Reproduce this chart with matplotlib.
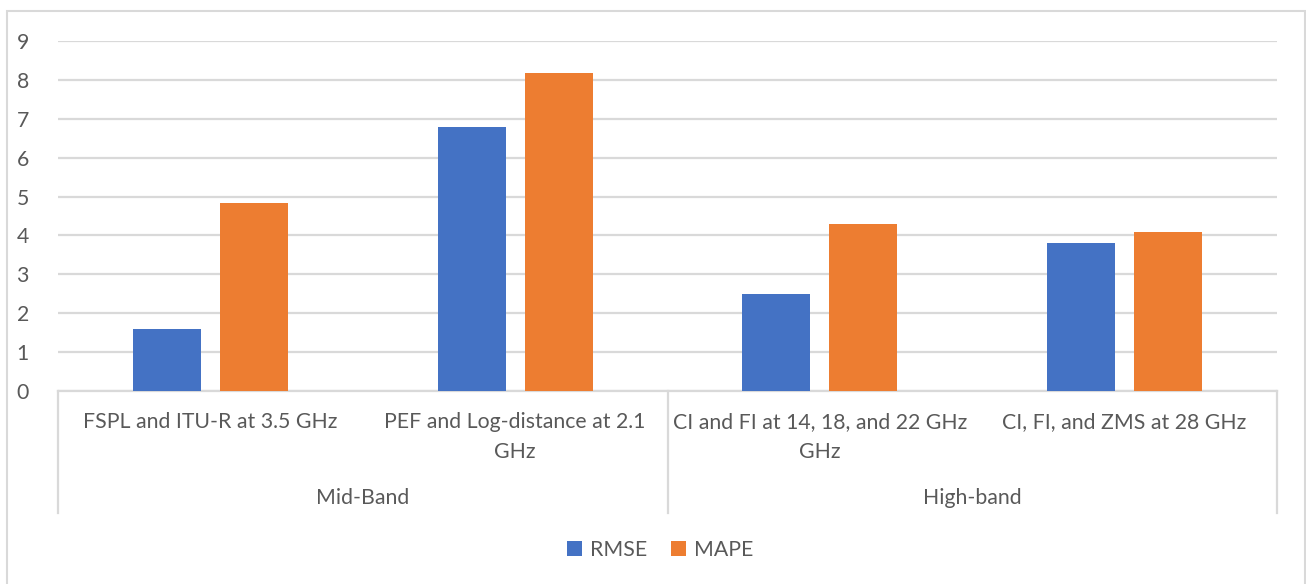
import matplotlib
matplotlib.use("Agg")
import matplotlib.pyplot as plt
import numpy as np
from matplotlib.patches import Rectangle
from matplotlib.lines import Line2D

categories = ["FSPL and ITU-R at 3.5 GHz", "PEF and Log-distance at 2.1\nGHz",
              "CI and FI at 14, 18, and 22 GHz\nGHz", "CI, FI, and ZMS at 28 GHz"]
groups = ["Mid-Band", "High-band"]
group_sizes = [2, 2]
series_names = ["RMSE", "MAPE"]
rmse = [1.6, 6.78, 2.5, 3.8]
mape = [4.83, 8.18, 4.3, 4.1]
yticks = [0, 1, 2, 3, 4, 5, 6, 7, 8, 9]

colors = ["#4472C4", "#ED7D31"]
text_color = "#595959"
grid_color = "#D9D9D9"
font = ["Lato", "DejaVu Sans"]
plt.rcParams['font.family'] = font
fs = 15.3

W, H = 1306, 584
fig = plt.figure(figsize=(W / 100, H / 100), dpi=100)

# outer chart border
fig.add_artist(Rectangle((7 / W, -0.05), (1305 - 7) / W, 1 - 11 / H + 0.05,
                         transform=fig.transFigure, fill=False,
                         edgecolor="#D9D9D9", linewidth=1.5))

x0, x1 = 58, 1277
y0, y1 = 391, 41
ax = fig.add_axes([x0 / W, 1 - y0 / H, (x1 - x0) / W, (y0 - y1) / H])

n = len(categories)
x = np.arange(n)
bw = 0.223
off = 0.143
ax.bar(x - off, rmse, bw, color=colors[0], label=series_names[0], zorder=3)
ax.bar(x + off, mape, bw, color=colors[1], label=series_names[1], zorder=3)

ax.set_xlim(-0.5, n - 0.5)
ax.set_ylim(0, 9)
ax.set_yticks(yticks)
ax.set_yticklabels([str(t) for t in yticks])
ax.tick_params(axis='y', length=0, pad=21, labelsize=fs, colors=text_color)
ax.set_xticks([])
ax.yaxis.grid(True, color=grid_color, linewidth=1.6, zorder=0)
for s in ["top", "right", "left"]:
    ax.spines[s].set_visible(False)
ax.spines["bottom"].set_color(grid_color)
ax.spines["bottom"].set_linewidth(1.6)
ax.set_axisbelow(True)

trans = ax.get_xaxis_transform()
ppy = 1.0 / (y0 - y1)  # axes fraction per pixel
# subcategory labels, one text per line
for i, c in enumerate(categories):
    for k, line in enumerate(c.split("\n")):
        ax.text(i, -(422 + 30 * k - y0) * ppy, line, transform=trans, ha='center',
                va='center', fontsize=fs, color=text_color, clip_on=False)
# group labels and separators
bottom_frac = -(513 - y0) * ppy
start = 0
bounds = [-0.5]
for g, sz in zip(groups, group_sizes):
    center = start + (sz - 1) / 2
    ax.text(center, -(498 - y0) * ppy, g, transform=trans, ha='center', va='center',
            fontsize=fs, color=text_color, clip_on=False)
    start += sz
    bounds.append(start - 0.5)
for b in bounds:
    ax.add_line(Line2D([b, b], [0, bottom_frac], transform=trans, color=grid_color,
                       linewidth=1.6, clip_on=False))

leg = fig.legend(loc='center', bbox_to_anchor=(660 / W, 1 - 550 / H), ncol=2,
                 frameon=False, fontsize=fs, handlelength=0.7, handleheight=0.7,
                 handletextpad=0.4, columnspacing=1.1)
for t in leg.get_texts():
    t.set_color(text_color)

fig.savefig("out.png", dpi=100)
